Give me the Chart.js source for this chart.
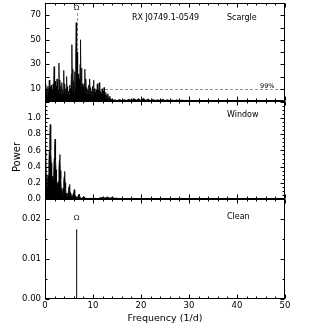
<!DOCTYPE html>
<html>
<head>
<meta charset="utf-8">
<script src="https://cdn.jsdelivr.net/npm/chart.js@4"></script>
<style>
  html, body { margin: 0; padding: 0; background: #fff; }
  #wrap { position: relative; width: 316px; height: 327px; }
  #wrap canvas { position: absolute; left: 0; top: 0; }
</style>
</head>
<body>
<div id="wrap">
  <canvas id="scargleChart" width="316" height="327"></canvas>
  <canvas id="windowChart" width="316" height="327"></canvas>
  <canvas id="cleanChart" width="316" height="327"></canvas>
</div>
<script>
// --- データ (周波数 1/d, パワー) ---
const scargleFreq = [
  0.0,0.1,0.2,0.3,0.4,0.5,0.6,0.7,0.8,0.9,1.0,1.1,1.2,1.3,1.4,1.5,1.6,1.7,1.8,1.9,
  2.0,2.1,2.2,2.3,2.4,2.5,2.6,2.7,2.8,2.9,3.0,3.1,3.2,3.3,3.4,3.5,3.6,3.7,3.8,3.9,
  4.0,4.1,4.2,4.3,4.4,4.5,4.6,4.7,4.8,4.9,5.0,5.1,5.2,5.3,5.4,5.5,5.6,5.7,5.8,5.9,
  6.0,6.1,6.2,6.3,6.4,6.5,6.6,6.7,6.8,6.9,7.0,7.1,7.2,7.3,7.4,7.5,7.6,7.7,7.8,7.9,
  8.0,8.1,8.2,8.3,8.4,8.5,8.6,8.7,8.8,8.9,9.0,9.1,9.2,9.3,9.4,9.5,9.6,9.7,9.8,9.9,
  10.0,10.1,10.2,10.3,10.4,10.5,10.6,10.7,10.8,10.9,11.0,11.1,11.2,11.3,11.4,11.5,11.6,11.7,11.8,11.9,
  12.0,12.1,12.2,12.3,12.4,12.5,12.6,12.7,12.8,12.9,13.0,13.1,13.2,13.3,13.4,13.5,13.6,13.7,13.8,13.9,
  14.0,14.5,15.0,15.5,16.0,16.5,17.0,17.5,18.0,18.5,19.0,19.5,20.0,20.5,21.0,21.5,22.0,22.5,23.0,23.5,
  24.0,24.5,25.0,25.5,26.0,26.5,27.0,27.5,28.0,28.5,29.0,29.5,30.0,50.0
];
const scarglePower = [
  8,5,14,6,10,4,12,7,9,17,5,11,7,13,4,9,6,14,8,28,
  7,16,5,12,8,18,6,10,9,31,6,17,8,12,5,15,7,9,6,25,
  8,14,5,10,8,20,6,12,7,8,5,13,7,10,9,22,46,8,26,10,
  16,6,24,9,35,64,12,40,8,22,10,18,7,30,50,9,27,6,14,9,
  12,5,15,26,7,18,8,11,5,9,7,13,5,18,7,11,4,8,6,12,
  5,17,6,10,4,7,5,9,5,14,4,9,6,15,4,8,3,6,4,10,
  3,8,3,11,2,5,2,7,2,5,2,6,1,3,1,4,0.5,2,0.5,1.5,
  0.3,1,0.3,1.2,0.4,1,0.5,1.5,0.3,2,0.6,1.8,0.4,2.2,0.5,1.6,0.3,1.2,0.5,1,
  0.3,1.4,0.4,1,0.3,0.8,0.3,1,0.2,0.8,0.2,0.6,0,0
];

const windowFreq = [
  0.0,0.1,0.2,0.3,0.4,0.5,0.6,0.7,0.8,0.9,1.0,1.1,1.2,1.3,1.4,1.5,1.6,1.7,1.8,1.9,
  2.0,2.1,2.2,2.3,2.4,2.5,2.6,2.7,2.8,2.9,3.0,3.1,3.2,3.3,3.4,3.5,3.6,3.7,3.8,3.9,
  4.0,4.1,4.2,4.3,4.4,4.5,4.6,4.7,4.8,4.9,5.0,5.1,5.2,5.3,5.4,5.5,5.6,5.7,5.8,5.9,
  6.0,6.1,6.2,6.3,6.4,6.5,6.6,6.7,6.8,6.9,7.0,7.1,7.2,7.3,7.4,7.5,7.6,7.7,7.8,7.9,
  8.0,8.1,8.2,8.3,8.4,8.5,9.0,9.5,10.0,10.5,11.0,11.5,12.0,12.5,13.0,13.5,14.0,14.5,15.0,15.5,
  16.0,17.0,18.0,19.0,20.0,50.0
];
const windowPower = [
  0.62,0.35,0.50,0.22,0.30,0.15,0.25,0.30,0.45,0.60,0.80,0.92,0.60,0.45,0.22,0.28,0.15,0.25,0.30,0.50,
  0.62,0.74,0.48,0.36,0.15,0.20,0.10,0.18,0.22,0.38,0.48,0.55,0.35,0.25,0.10,0.13,0.06,0.10,0.14,0.22,
  0.28,0.34,0.20,0.14,0.05,0.07,0.03,0.06,0.08,0.12,0.15,0.18,0.11,0.07,0.03,0.04,0.02,0.03,0.05,0.07,
  0.09,0.115,0.07,0.04,0.02,0.02,0.01,0.02,0.03,0.04,0.05,0.06,0.04,0.02,0.01,0.01,0.005,0.01,0.015,0.02,
  0.025,0.03,0.02,0.01,0.005,0.005,0.004,0.008,0.003,0.008,0.002,0.015,0.02,0.012,0.025,0.01,0.02,0.008,0.01,0.004,
  0.006,0.002,0.004,0.002,0,0
];

const cleanFreq = [6.6];
const cleanPower = [0.0174];

const omegaFreq = 6.6;
const fapLevel = 10;

// --- 共通設定 ---
const FONT = 'DejaVu Sans';
const toXY = (xs, ys) => xs.map((x, i) => ({ x: x, y: ys[i] }));

// 枠線・内向き目盛り・注釈を描くプラグイン
const framePlugin = {
  id: 'frame',
  beforeDatasetsDraw(chart, args, opts) {
    const { ctx, chartArea: a, scales: { x, y } } = chart;
    ctx.save();
    ctx.strokeStyle = '#777';
    ctx.lineWidth = 0.8;
    ctx.setLineDash([3, 2]);
    (opts.hLines || []).forEach(v => {
      const py = Math.round(y.getPixelForValue(v)) + 0.5;
      ctx.beginPath(); ctx.moveTo(a.left, py); ctx.lineTo(a.right, py); ctx.stroke();
    });
    (opts.vLines || []).forEach(l => {
      const px = Math.round(x.getPixelForValue(l.x)) + 0.5;
      ctx.beginPath(); ctx.moveTo(px, y.getPixelForValue(l.y0)); ctx.lineTo(px, y.getPixelForValue(l.y1)); ctx.stroke();
    });
    ctx.restore();
  },
  afterDraw(chart, args, opts) {
    const { ctx, chartArea: a, scales: { x, y } } = chart;
    ctx.save();
    ctx.strokeStyle = '#000';
    ctx.lineWidth = 1;
    const L = Math.round(a.left) + 0.5, R = Math.round(a.right) - 0.5;
    const T = Math.round(a.top) + 0.5, B = Math.round(a.bottom) - 0.5;
    ctx.strokeRect(L, T, R - L, B - T);
    ctx.beginPath();
    // x方向の目盛り (上下)
    for (let v = 0; v <= 50; v += 2) {
      const px = Math.round(x.getPixelForValue(v)) + 0.5;
      const len = v % 10 === 0 ? 4 : 2;
      ctx.moveTo(px, B); ctx.lineTo(px, B - len);
      ctx.moveTo(px, T); ctx.lineTo(px, T + len);
    }
    // y方向の目盛り (左右)
    const n = Math.round((y.max - y.min) / opts.minor);
    for (let i = 0; i <= n; i++) {
      const v = y.min + i * opts.minor;
      const major = Math.abs(v / opts.major - Math.round(v / opts.major)) < 1e-6;
      const len = major ? 4 : 2;
      const py = Math.round(y.getPixelForValue(v)) + 0.5;
      ctx.moveTo(L, py); ctx.lineTo(L + len, py);
      ctx.moveTo(R, py); ctx.lineTo(R - len, py);
    }
    ctx.stroke();
    // 注釈テキスト
    ctx.fillStyle = '#000';
    ctx.textBaseline = 'middle';
    (opts.texts || []).forEach(t => {
      ctx.font = t.font;
      ctx.textAlign = t.align || 'left';
      ctx.fillText(t.text, x.getPixelForValue(t.x), y.getPixelForValue(t.y));
    });
    if (opts.yTitle) {
      ctx.font = '10px "' + FONT + '"';
      ctx.textAlign = 'center';
      ctx.translate(opts.yTitle.x, opts.yTitle.y);
      ctx.rotate(-Math.PI / 2);
      ctx.fillText(opts.yTitle.text, 0, 0);
    }
    ctx.restore();
  }
};

function makePanel(id, cfg) {
  return new Chart(document.getElementById(id).getContext('2d'), {
    type: 'line',
    data: {
      datasets: [{
        data: cfg.data,
        borderColor: '#000',
        backgroundColor: '#000',
        borderWidth: cfg.lineWidth || 0.8,
        fill: cfg.fill ? 'origin' : false,
        pointRadius: 0,
        tension: 0
      }]
    },
    options: {
      responsive: false,
      animation: false,
      layout: { padding: { left: 0, right: 31, top: cfg.top, bottom: cfg.bottom } },
      plugins: {
        legend: { display: false },
        tooltip: { enabled: false },
        frame: cfg.frame
      },
      scales: {
        x: {
          type: 'linear',
          min: 0, max: 50,
          display: cfg.showX,
          afterFit: s => {
            if (cfg.showX) s.height = 28;
            s.paddingLeft = 0; s.paddingRight = 0;
          },
          grid: { display: false, drawTicks: false },
          border: { display: false },
          ticks: { stepSize: 10, padding: 2, color: '#000', font: { family: FONT, size: 8.5 } },
          title: {
            display: true, text: 'Frequency (1/d)', color: '#000',
            font: { family: FONT, size: 9.5 }, padding: { top: 0, bottom: 3 }
          }
        },
        y: {
          min: cfg.yMin, max: cfg.yMax,
          afterFit: s => { s.width = 45; s.paddingTop = 0; s.paddingBottom = 0; },
          grid: { display: false, drawTicks: false },
          border: { display: false },
          afterBuildTicks: s => { s.ticks = cfg.yTicks.map(v => ({ value: v })); },
          ticks: {
            padding: 4, color: '#000',
            font: { family: FONT, size: 8.5 },
            callback: cfg.yFmt
          }
        }
      }
    },
    plugins: [framePlugin]
  });
}

// Scargle
makePanel('scargleChart', {
  data: toXY(scargleFreq, scarglePower),
  fill: true,
  top: 3, bottom: 226, showX: false,
  yMin: 0, yMax: 80, yTicks: [10, 30, 50, 70],
  yFmt: v => String(v),
  frame: {
    major: 10, minor: 10,
    hLines: [fapLevel],
    vLines: [{ x: omegaFreq, y0: 0, y1: 72 }],
    texts: [
      { text: 'RX J0749.1-0549', x: 18.1, y: 67.5, font: '8px "' + FONT + '"' },
      { text: 'Scargle', x: 37.9, y: 67.5, font: '8px "' + FONT + '"' },
      { text: '99%', x: 47.8, y: 12.2, align: 'right', font: '6.5px "' + FONT + '"' },
      { text: 'Ω', x: omegaFreq, y: 75.6, align: 'center', font: '7px "DejaVu Serif"' }
    ]
  }
});

// Window
makePanel('windowChart', {
  data: toXY(windowFreq, windowPower),
  fill: true,
  top: 101, bottom: 128, showX: false,
  yMin: 0, yMax: 1.21, yTicks: [0, 0.2, 0.4, 0.6, 0.8, 1.0],
  yFmt: v => v.toFixed(1),
  frame: {
    major: 0.2, minor: 0.05,
    texts: [
      { text: 'Window', x: 37.9, y: 1.04, font: '8px "' + FONT + '"' }
    ],
    yTitle: { text: 'Power', x: 17, y: 157 }
  }
});

// Clean
makePanel('cleanChart', {
  data: cleanFreq.flatMap((f, i) => [{ x: f, y: 0 }, { x: f, y: cleanPower[i] }]),
  fill: false, lineWidth: 1,
  top: 199, bottom: 0, showX: true,
  yMin: 0, yMax: 0.025, yTicks: [0, 0.01, 0.02],
  yFmt: v => v.toFixed(2),
  frame: {
    major: 0.01, minor: 0.005,
    texts: [
      { text: 'Clean', x: 37.9, y: 0.0206, font: '8px "' + FONT + '"' },
      { text: 'Ω', x: omegaFreq, y: 0.0202, align: 'center', font: '7px "DejaVu Serif"' }
    ]
  }
});
</script>
</body>
</html>
